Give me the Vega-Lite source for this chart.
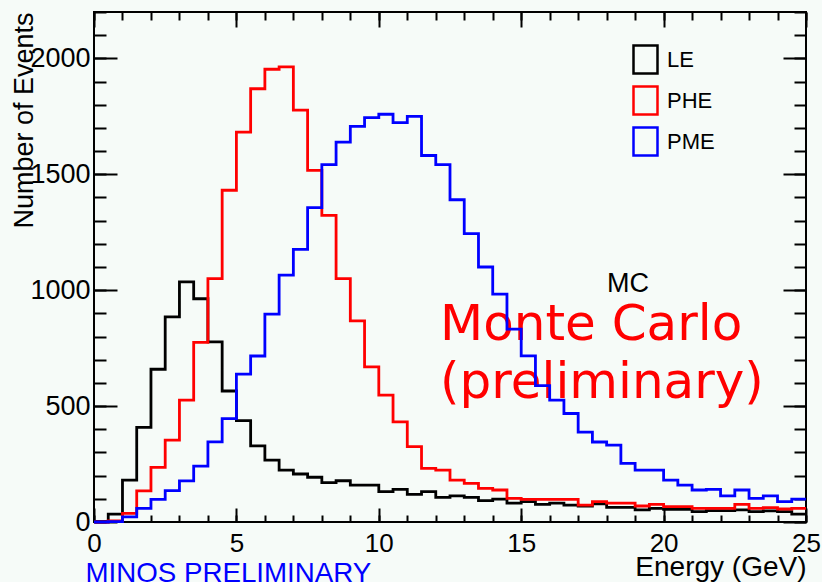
{
  "$schema": "https://vega.github.io/schema/vega-lite/v6.json",
  "width": 712,
  "height": 510,
  "autosize": "none",
  "padding": {"left": 94, "top": 12, "right": 16, "bottom": 60},
  "background": "#f6fbf8",
  "datasets": {
    "h": [
      {"s":"LE","e":0,"n":3},{"s":"LE","e":0.5,"n":34},{"s":"LE","e":1,"n":181},{"s":"LE","e":1.5,"n":408},{"s":"LE","e":2,"n":659},{"s":"LE","e":2.5,"n":885},{"s":"LE","e":3,"n":1036},{"s":"LE","e":3.5,"n":963},{"s":"LE","e":4,"n":777},{"s":"LE","e":4.5,"n":565},
      {"s":"LE","e":5,"n":437},{"s":"LE","e":5.5,"n":328},{"s":"LE","e":6,"n":267},{"s":"LE","e":6.5,"n":224},{"s":"LE","e":7,"n":207},{"s":"LE","e":7.5,"n":193},{"s":"LE","e":8,"n":170},{"s":"LE","e":8.5,"n":178},{"s":"LE","e":9,"n":159},{"s":"LE","e":9.5,"n":159},
      {"s":"LE","e":10,"n":131},{"s":"LE","e":10.5,"n":141},{"s":"LE","e":11,"n":119},{"s":"LE","e":11.5,"n":131},{"s":"LE","e":12,"n":106},{"s":"LE","e":12.5,"n":113},{"s":"LE","e":13,"n":106},{"s":"LE","e":13.5,"n":92},{"s":"LE","e":14,"n":99},{"s":"LE","e":14.5,"n":81},
      {"s":"LE","e":15,"n":88},{"s":"LE","e":15.5,"n":76},{"s":"LE","e":16,"n":81},{"s":"LE","e":16.5,"n":73},{"s":"LE","e":17,"n":69},{"s":"LE","e":17.5,"n":78},{"s":"LE","e":18,"n":63},{"s":"LE","e":18.5,"n":63},{"s":"LE","e":19,"n":52},{"s":"LE","e":19.5,"n":59},
      {"s":"LE","e":20,"n":55},{"s":"LE","e":20.5,"n":55},{"s":"LE","e":21,"n":45},{"s":"LE","e":21.5,"n":49},{"s":"LE","e":22,"n":49},{"s":"LE","e":22.5,"n":52},{"s":"LE","e":23,"n":45},{"s":"LE","e":23.5,"n":48},{"s":"LE","e":24,"n":45},{"s":"LE","e":24.5,"n":34},{"s":"LE","e":25,"n":34},
      {"s":"PHE","e":0,"n":0},{"s":"PHE","e":0.5,"n":5},{"s":"PHE","e":1,"n":37},{"s":"PHE","e":1.5,"n":134},{"s":"PHE","e":2,"n":236},{"s":"PHE","e":2.5,"n":353},{"s":"PHE","e":3,"n":526},{"s":"PHE","e":3.5,"n":775},{"s":"PHE","e":4,"n":1050},{"s":"PHE","e":4.5,"n":1431},
      {"s":"PHE","e":5,"n":1682},{"s":"PHE","e":5.5,"n":1869},{"s":"PHE","e":6,"n":1953},{"s":"PHE","e":6.5,"n":1963},{"s":"PHE","e":7,"n":1777},{"s":"PHE","e":7.5,"n":1517},{"s":"PHE","e":8,"n":1323},{"s":"PHE","e":8.5,"n":1050},{"s":"PHE","e":9,"n":868},{"s":"PHE","e":9.5,"n":669},
      {"s":"PHE","e":10,"n":547},{"s":"PHE","e":10.5,"n":432},{"s":"PHE","e":11,"n":325},{"s":"PHE","e":11.5,"n":231},{"s":"PHE","e":12,"n":224},{"s":"PHE","e":12.5,"n":181},{"s":"PHE","e":13,"n":167},{"s":"PHE","e":13.5,"n":145},{"s":"PHE","e":14,"n":138},{"s":"PHE","e":14.5,"n":102},
      {"s":"PHE","e":15,"n":98},{"s":"PHE","e":15.5,"n":98},{"s":"PHE","e":16,"n":98},{"s":"PHE","e":16.5,"n":98},{"s":"PHE","e":17,"n":73},{"s":"PHE","e":17.5,"n":88},{"s":"PHE","e":18,"n":81},{"s":"PHE","e":18.5,"n":81},{"s":"PHE","e":19,"n":69},{"s":"PHE","e":19.5,"n":76},
      {"s":"PHE","e":20,"n":66},{"s":"PHE","e":20.5,"n":66},{"s":"PHE","e":21,"n":59},{"s":"PHE","e":21.5,"n":59},{"s":"PHE","e":22,"n":59},{"s":"PHE","e":22.5,"n":76},{"s":"PHE","e":23,"n":59},{"s":"PHE","e":23.5,"n":62},{"s":"PHE","e":24,"n":56},{"s":"PHE","e":24.5,"n":59},{"s":"PHE","e":25,"n":59},
      {"s":"PME","e":0,"n":0},{"s":"PME","e":0.5,"n":2},{"s":"PME","e":1,"n":22},{"s":"PME","e":1.5,"n":59},{"s":"PME","e":2,"n":98},{"s":"PME","e":2.5,"n":135},{"s":"PME","e":3,"n":177},{"s":"PME","e":3.5,"n":241},{"s":"PME","e":4,"n":346},{"s":"PME","e":4.5,"n":446},
      {"s":"PME","e":5,"n":638},{"s":"PME","e":5.5,"n":716},{"s":"PME","e":6,"n":897},{"s":"PME","e":6.5,"n":1065},{"s":"PME","e":7,"n":1176},{"s":"PME","e":7.5,"n":1356},{"s":"PME","e":8,"n":1542},{"s":"PME","e":8.5,"n":1639},{"s":"PME","e":9,"n":1707},{"s":"PME","e":9.5,"n":1744},
      {"s":"PME","e":10,"n":1759},{"s":"PME","e":10.5,"n":1723},{"s":"PME","e":11,"n":1750},{"s":"PME","e":11.5,"n":1581},{"s":"PME","e":12,"n":1542},{"s":"PME","e":12.5,"n":1390},{"s":"PME","e":13,"n":1244},{"s":"PME","e":13.5,"n":1100},{"s":"PME","e":14,"n":983},{"s":"PME","e":14.5,"n":832},
      {"s":"PME","e":15,"n":717},{"s":"PME","e":15.5,"n":588},{"s":"PME","e":16,"n":526},{"s":"PME","e":16.5,"n":468},{"s":"PME","e":17,"n":388},{"s":"PME","e":17.5,"n":345},{"s":"PME","e":18,"n":332},{"s":"PME","e":18.5,"n":253},{"s":"PME","e":19,"n":224},{"s":"PME","e":19.5,"n":224},
      {"s":"PME","e":20,"n":181},{"s":"PME","e":20.5,"n":159},{"s":"PME","e":21,"n":138},{"s":"PME","e":21.5,"n":141},{"s":"PME","e":22,"n":113},{"s":"PME","e":22.5,"n":138},{"s":"PME","e":23,"n":102},{"s":"PME","e":23.5,"n":113},{"s":"PME","e":24,"n":88},{"s":"PME","e":24.5,"n":99},{"s":"PME","e":25,"n":99}
    ]
  },
  "data": {"name": "h"},
  "resolve": {"axis": {"x": "independent", "y": "independent"}},
  "layer": [
    {
      "data": {"values": [{}]},
      "mark": {"type": "text", "text": ["Monte Carlo", "(preliminary)"], "font": "DejaVu Sans", "fontSize": 50, "lineHeight": 58, "color": "#ff0000", "align": "left", "baseline": "alphabetic"},
      "encoding": {
        "x": {"datum": 12.15, "type": "quantitative", "scale": {"domain": [0, 25], "nice": false, "zero": false}, "axis": null},
        "y": {"datum": 785, "type": "quantitative", "scale": {"domain": [0, 2200], "nice": false, "zero": false}, "axis": null}
      }
    },
    {
      "data": {"values": [{}]},
      "mark": {"type": "text", "text": "MC", "font": "Liberation Sans", "fontSize": 27, "color": "#000000", "align": "center", "baseline": "alphabetic"},
      "encoding": {
        "x": {"datum": 18.75, "type": "quantitative", "scale": {"domain": [0, 25], "nice": false, "zero": false}, "axis": null},
        "y": {"datum": 993, "type": "quantitative", "scale": {"domain": [0, 2200], "nice": false, "zero": false}, "axis": null}
      }
    },
    {
      "mark": {"type": "line", "interpolate": "step-after", "strokeWidth": 2.8, "strokeJoin": "miter"},
      "encoding": {
        "x": {"field": "e", "type": "quantitative", "scale": {"domain": [0, 25], "nice": false, "zero": false},
          "axis": {"orient": "bottom", "values": [0, 5, 10, 15, 20, 25], "format": "d", "tickSize": -14, "labelPadding": 22, "labelBaseline": "top", "labelFlush": false, "labelOverlap": false,
            "title": "Energy (GeV)", "titleFontSize": 28, "titleX": 712, "titleY": 53, "titleAlign": "right", "titleBaseline": "alphabetic", "titleAnchor": "end"}},
        "y": {"field": "n", "type": "quantitative", "scale": {"domain": [0, 2200], "nice": false, "zero": false},
          "axis": {"orient": "left", "values": [0, 500, 1000, 1500, 2000], "format": "d", "tickSize": -23, "labelPadding": 27, "labelFontSize": 27, "labelOverlap": false, "labelFlush": false,
            "title": "Number of Events", "titleX": -62, "titleY": 0, "titleAngle": 270, "titleAlign": "right", "titleBaseline": "alphabetic", "titleAnchor": "end"}},
        "color": {"field": "s", "type": "nominal",
          "scale": {"domain": ["LE", "PHE", "PME"], "range": ["#000000", "#ff0000", "#0000ff"]},
          "legend": {"orient": "none", "legendX": 536, "legendY": 32, "title": null, "padding": 0,
            "symbolType": "M-0.857,-1L0.857,-1L0.857,1L-0.857,1Z", "symbolSize": 784, "symbolStrokeWidth": 2.5, "symbolFillColor": "transparent",
            "labelFontSize": 22, "labelFont": "Liberation Sans", "labelColor": "#000000", "labelOffset": 6, "rowPadding": 2, "labelLimit": 0}}
      }
    },
    {
      "mark": {"type": "point", "opacity": 0},
      "encoding": {
        "x": {"field": "e", "type": "quantitative", "scale": {"domain": [0, 25], "nice": false, "zero": false},
          "axis": {"orient": "bottom", "values": [0,1,2,3,4,5,6,7,8,9,10,11,12,13,14,15,16,17,18,19,20,21,22,23,24,25], "tickSize": -7, "labels": false,
            "title": "MINOS PRELIMINARY", "titleFontSize": 27.7, "titleColor": "#0000ff", "titleX": -9, "titleY": 59, "titleAlign": "left", "titleBaseline": "alphabetic", "titleAnchor": "start"}},
        "y": {"field": "n", "type": "quantitative", "scale": {"domain": [0, 2200], "nice": false, "zero": false},
          "axis": {"orient": "left", "values": [0,100,200,300,400,500,600,700,800,900,1000,1100,1200,1300,1400,1500,1600,1700,1800,1900,2000,2100,2200], "tickSize": -12, "labels": false, "title": null}}
      }
    },
    {
      "mark": {"type": "point", "opacity": 0},
      "encoding": {
        "x": {"field": "e", "type": "quantitative", "scale": {"domain": [0, 25], "nice": false, "zero": false},
          "axis": {"orient": "top", "values": [0, 5, 10, 15, 20, 25], "tickSize": -15, "labels": false, "title": null}},
        "y": {"field": "n", "type": "quantitative", "scale": {"domain": [0, 2200], "nice": false, "zero": false},
          "axis": {"orient": "right", "values": [0, 500, 1000, 1500, 2000], "tickSize": -23, "labels": false, "title": null}}
      }
    },
    {
      "mark": {"type": "point", "opacity": 0},
      "encoding": {
        "x": {"field": "e", "type": "quantitative", "scale": {"domain": [0, 25], "nice": false, "zero": false},
          "axis": {"orient": "top", "values": [0,1,2,3,4,5,6,7,8,9,10,11,12,13,14,15,16,17,18,19,20,21,22,23,24,25], "tickSize": -8, "labels": false, "title": null}},
        "y": {"field": "n", "type": "quantitative", "scale": {"domain": [0, 2200], "nice": false, "zero": false},
          "axis": {"orient": "right", "values": [0,100,200,300,400,500,600,700,800,900,1000,1100,1200,1300,1400,1500,1600,1700,1800,1900,2000,2100,2200], "tickSize": -12, "labels": false, "title": null}}
      }
    }
  ],
  "config": {
    "font": "Liberation Sans",
    "view": {"stroke": "#000000", "strokeWidth": 2},
    "axis": {"domain": false, "grid": false, "tickColor": "#000000", "tickWidth": 2, "labelColor": "#000000", "labelFont": "Liberation Sans", "labelFontSize": 26,
      "titleFont": "Liberation Sans", "titleFontSize": 27, "titleFontWeight": "normal", "titleColor": "#000000", "titlePadding": 0}
  }
}
